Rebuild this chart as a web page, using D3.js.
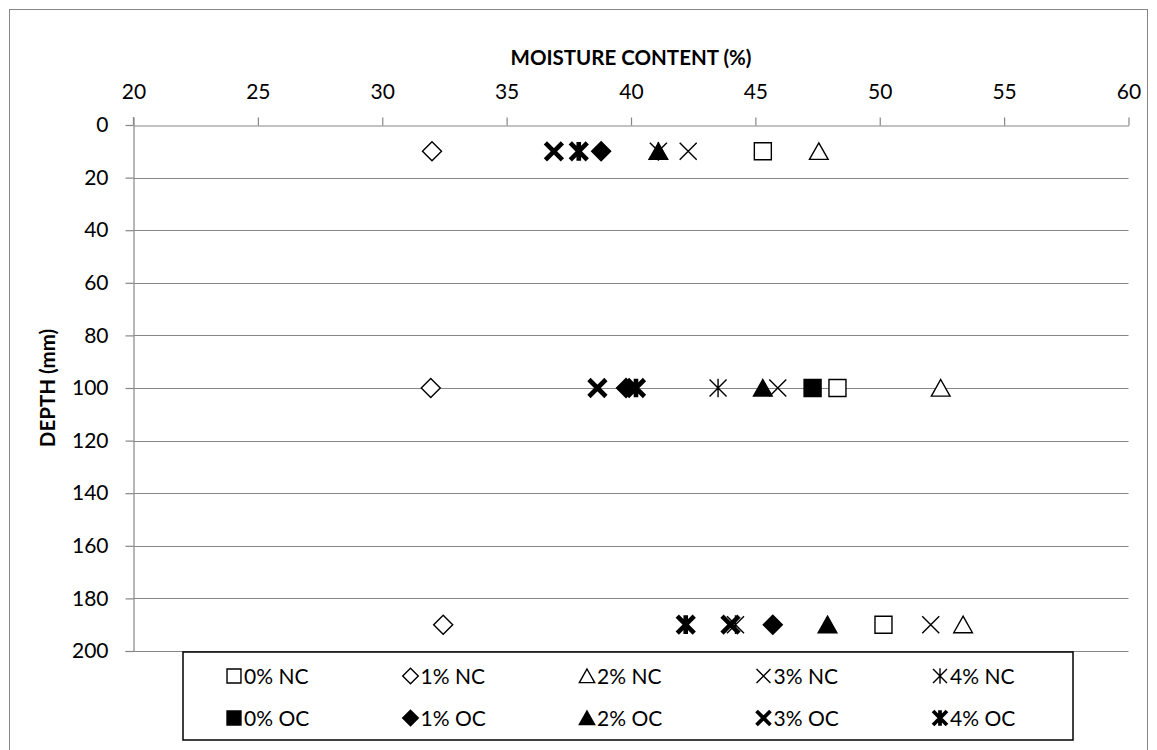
<!DOCTYPE html>
<html>
<head>
<meta charset="utf-8">
<script src="https://cdn.jsdelivr.net/npm/d3@7"></script>
<style>
  html, body { margin: 0; padding: 0; background: #fff; }
  svg { display: block; font-family: Lato, "Open Sans", sans-serif; }
</style>
</head>
<body>
<svg id="chart" width="1157" height="750"></svg>
<script>
// Depth of each sampling level (mm)
const depths = [10, 100, 190];

// Moisture content (%) at each depth, per mix
const nc0 = [45.3, 48.3, 50.15];
const nc1 = [32.0, 31.95, 32.45];
const nc2 = [47.55, 52.45, 53.35];
const nc3 = [42.3, 45.9, 52.05];
const nc4 = [41.1, 43.5, 44.2];
const oc0 = [null, 47.3, null];
const oc1 = [38.8, 39.8, 45.7];
const oc2 = [41.1, 45.3, 47.9];
const oc3 = [36.9, 38.65, 44.0];
const oc4 = [37.9, 40.2, 42.2];

const seriesNames = ["0% NC", "1% NC", "2% NC", "3% NC", "4% NC",
                     "0% OC", "1% OC", "2% OC", "3% OC", "4% OC"];
const xTicks = [20, 25, 30, 35, 40, 45, 50, 55, 60];
const yTicks = [0, 20, 40, 60, 80, 100, 120, 140, 160, 180, 200];

const seriesValues = [nc0, nc1, nc2, nc3, nc4, oc0, oc1, oc2, oc3, oc4];
const shapes = ["square", "diamond", "triangle", "cross", "star",
                "square", "diamond", "triangle", "cross", "star"];

const svg = d3.select("#chart");
const axisColor = "#868686";

const x = d3.scaleLinear().domain([20, 60]).range([133.5, 1128.5]);
const y = d3.scaleLinear().domain([0, 200]).range([125, 651]);

// Chart area border
svg.append("rect")
  .attr("x", 9.5).attr("y", 9.5)
  .attr("width", 1138).attr("height", 760)
  .attr("fill", "#fff").attr("stroke", axisColor).attr("stroke-width", 1);

// Horizontal gridlines
svg.append("g")
  .selectAll("line")
  .data(yTicks.slice(1, -1))
  .join("line")
  .attr("x1", x(20)).attr("x2", x(60))
  .attr("y1", d => Math.round(y(d)) + 0.5).attr("y2", d => Math.round(y(d)) + 0.5)
  .attr("stroke", axisColor).attr("stroke-width", 1.2);

// Bottom edge of the plot
svg.append("line")
  .attr("x1", x(20) - 8).attr("x2", x(60))
  .attr("y1", y(200) + 0.5).attr("y2", y(200) + 0.5)
  .attr("stroke", axisColor).attr("stroke-width", 1.2);

// Top x axis
const xAxis = svg.append("g")
  .attr("transform", `translate(0,${y(0) + 0.5})`)
  .call(d3.axisTop(x).tickValues(xTicks).tickSize(8).tickSizeOuter(0).tickPadding(19));
xAxis.select(".domain").attr("stroke", axisColor).attr("stroke-width", 1.2);
xAxis.selectAll(".tick line").attr("stroke", axisColor).attr("stroke-width", 1.2);
xAxis.selectAll(".tick text").attr("font-size", 21).attr("fill", "#000")
  .attr("font-family", "Lato");

// Left y axis
const yAxis = svg.append("g")
  .attr("transform", `translate(${x(20)},0)`)
  .call(d3.axisLeft(y).tickValues(yTicks).tickSize(8).tickSizeOuter(0).tickPadding(17));
yAxis.select(".domain").attr("stroke", axisColor).attr("stroke-width", 1.2);
yAxis.selectAll(".tick line").attr("stroke", axisColor).attr("stroke-width", 1.2);
yAxis.selectAll(".tick text").attr("font-size", 21).attr("fill", "#000")
  .attr("font-family", "Lato");
// extend the axis line up to meet the top tick
yAxis.append("line").attr("x1", 0).attr("x2", 0)
  .attr("y1", y(0) - 8).attr("y2", y(0)).attr("stroke", axisColor).attr("stroke-width", 1.2);

// Axis titles
svg.append("text")
  .attr("x", (x(20) + x(60)) / 2).attr("y", 65)
  .attr("text-anchor", "middle")
  .attr("font-size", 20.5).attr("font-weight", "bold")
  .text("MOISTURE CONTENT (%)");

svg.append("text")
  .attr("transform", `translate(55,${(y(0) + y(200)) / 2}) rotate(-90)`)
  .attr("text-anchor", "middle")
  .attr("font-size", 20.5).attr("font-weight", "bold")
  .text("DEPTH (mm)");

// Marker outlines
function markerPath(kind, r) {
  switch (kind) {
    case "square":
      return `M${-r},${-r}H${r}V${r}H${-r}Z`;
    case "diamond": {
      const d = r * 1.12;
      return `M0,${-d}L${d},0L0,${d}L${-d},0Z`;
    }
    case "triangle":
      return `M0,${-r}L${r * 1.1},${r * 0.95}L${-r * 1.1},${r * 0.95}Z`;
    case "cross":
      return `M${-r},${-r}L${r},${r}M${r},${-r}L${-r},${r}`;
    case "star":
      return `M${-r},${-r}L${r},${r}M${r},${-r}L${-r},${r}M0,${-r * 1.1}L0,${r * 1.1}`;
  }
}

function styleMarker(sel, i, scale) {
  const kind = shapes[i];
  const filled = i >= 5;
  const lineShape = kind === "cross" || kind === "star";
  sel.attr("d", markerPath(kind, 8.5 * scale))
    .attr("fill", lineShape ? "none" : (filled ? "#000" : "#fff"))
    .attr("stroke", "#000")
    .attr("stroke-width", lineShape ? (filled ? 4.6 * scale : 1.4) : 1.4)
    .attr("stroke-linejoin", "miter");
}

// Data points
const points = svg.append("g");
seriesValues.forEach((vals, i) => {
  const pts = depths.map((d, k) => ({ depth: d, mc: vals[k] })).filter(p => p.mc != null);
  points.append("g")
    .selectAll("path")
    .data(pts)
    .join("path")
    .attr("transform", p => `translate(${x(p.mc)},${y(p.depth)})`)
    .call(sel => styleMarker(sel, i, 1));
});

// Legend
const legend = svg.append("g");
legend.append("rect")
  .attr("x", 183).attr("y", 652)
  .attr("width", 890).attr("height", 88)
  .attr("fill", "#fff").attr("stroke", "#000").attr("stroke-width", 1.5);

const colX = d3.scalePoint().domain(d3.range(5)).range([234, 940]);
const rowY = d3.scalePoint().domain([0, 1]).range([676, 718]);

seriesNames.forEach((name, i) => {
  const cx = colX(i % 5), cy = rowY(Math.floor(i / 5));
  legend.append("path")
    .attr("transform", `translate(${cx},${cy})`)
    .call(sel => styleMarker(sel, i, 0.82));
  legend.append("text")
    .attr("x", cx + 10).attr("y", cy)
    .attr("dy", "0.36em")
    .attr("font-size", 21)
    .text(name);
});
</script>
</body>
</html>
